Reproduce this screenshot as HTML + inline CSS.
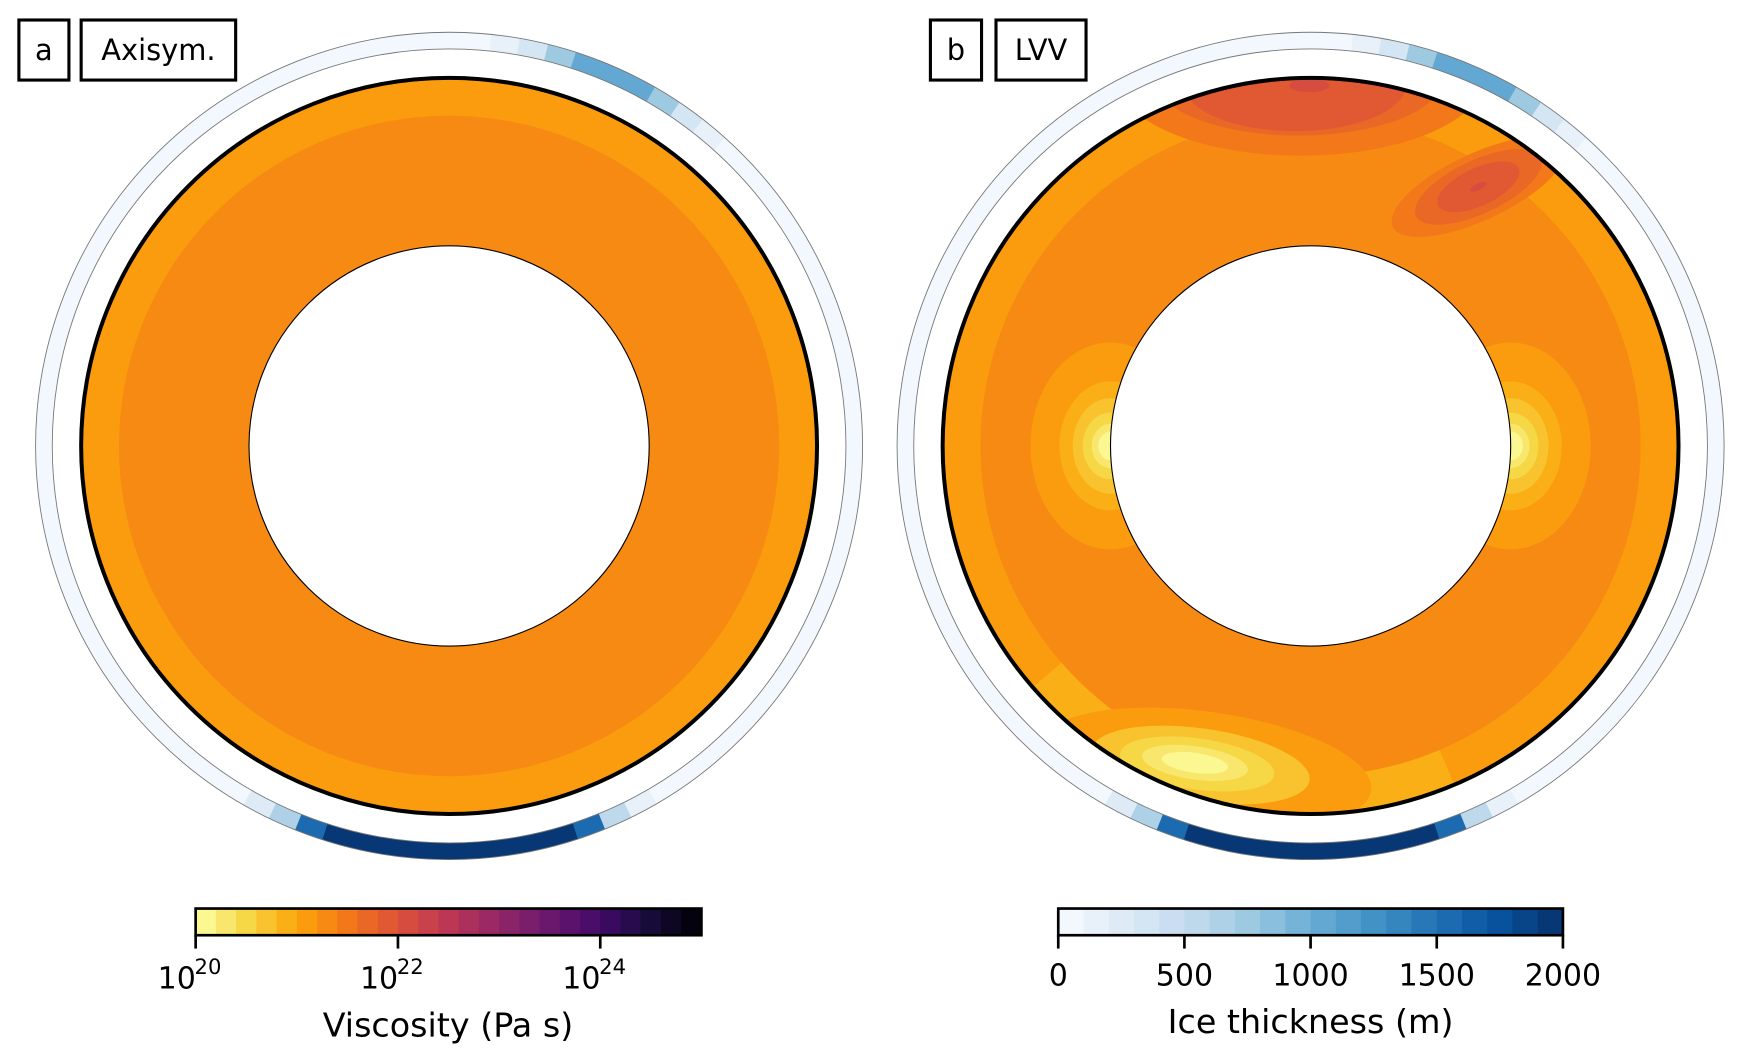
<!DOCTYPE html>
<html><head><meta charset="utf-8"><style>
html,body{margin:0;padding:0;background:#fff;}
svg{display:block;font-family:"DejaVu Sans","Liberation Sans",sans-serif;}
</style></head><body>
<svg id="fig" width="1743" height="1062" viewBox="0 0 1568 955" preserveAspectRatio="none" xmlns="http://www.w3.org/2000/svg">
<defs>
<clipPath id="annA" clip-rule="evenodd"><path clip-rule="evenodd" d="M404,70a331,331 0 1,0 0.01,0ZM404,221a180,180 0 1,0 0.01,0Z"/></clipPath>
<clipPath id="annB" clip-rule="evenodd"><path clip-rule="evenodd" d="M1179,70a331,331 0 1,0 0.01,0ZM1179,221a180,180 0 1,0 0.01,0Z"/></clipPath>
</defs>
<g id="panelA"></g>
<g id="panelB"></g>
<g id="cbars"></g>
<g>
<rect x="17" y="18" width="45" height="54" fill="#fff" stroke="#000" stroke-width="2.8"/>
<text x="39.5" y="54" font-size="26" text-anchor="middle">a</text>
<rect x="73" y="18" width="139" height="54" fill="#fff" stroke="#000" stroke-width="2.8"/>
<text x="142.5" y="54" font-size="26" text-anchor="middle">Axisym.</text>
<rect x="837" y="18" width="46" height="54" fill="#fff" stroke="#000" stroke-width="2.8"/>
<text x="860" y="54" font-size="26" text-anchor="middle">b</text>
<rect x="896" y="18" width="81" height="54" fill="#fff" stroke="#000" stroke-width="2.8"/>
<text x="936.5" y="54" font-size="26" text-anchor="middle">LVV</text>
</g>
</svg>
<script>
// ---- data ----
const viscLevels = 25;            // log10 bins 20..25 step 0.2
const viscMin = 20, viscMax = 25;
const viscTicks = [20, 22, 24];
const iceLevels = 20;             // 0..2000 step 100
const iceMax = 2000;
const iceTicks = [0, 500, 1000, 1500, 2000];
// ice thickness in 4-degree bins (screen angle, 0 = right, clockwise)
const iceThickness = [0,0,0,0,0,0,0,0,0,0,0,0,0,0,50,100,500,1500,2000,2000,2000,2000,2000,2000,2000,2000,2000,1500,600,200,50,0,0,0,0,0,0,0,0,0,0,0,0,0,0,0,0,0,0,0,0,0,0,0,0,0,0,0,0,0,0,0,0,0,0,0,0,0,50,100,300,700,1000,1000,1000,700,300,100,0,0,0,0,0,0,0,0,0,0,0,0];
// axisymmetric viscosity: log10 values for outer / inner shells
const axisymShells = [21.1, 21.3];
// LVV anomalies (log10 viscosity levels, drawn outside-in)
const lvvOuter = 21.1, lvvInner = 21.3;
const topBlobLevels = [21.5, 21.7, 21.9, 22.1];
const nePlumeLevels = [21.5, 21.7, 21.9, 22.1];
const sideBlobLevels = [21.1, 20.9, 20.7, 20.5, 20.3, 20.1];
const swBlobLevels = [21.1, 20.7, 20.5, 20.3, 20.1];
const ringLowLevel = 20.9;

// ---- colormaps ----
const inf = ["#000004","#160b39","#420a68","#6a176e","#932667","#bc3754","#dd513a","#f37819","#fca50a","#f6d746","#fcffa4"];
const blu = ["#f7fbff","#deebf7","#c6dbef","#9ecae1","#6baed6","#4292c6","#2171b5","#08519c","#08306b"];
function hex(c){return [1,3,5].map(i=>parseInt(c.substr(i,2),16));}
function interp(stops,t){t=Math.max(0,Math.min(1,t));const n=stops.length-1;const i=Math.min(n-1,Math.floor(t*n));const f=t*n-i;const a=hex(stops[i]),b=hex(stops[i+1]);return "rgb("+a.map((v,k)=>Math.round(v+(b[k]-v)*f)).join(",")+")";}
function viscColor(v){let k=Math.floor((v-viscMin)/(viscMax-viscMin)*viscLevels+1e-6);k=Math.max(0,Math.min(viscLevels-1,k));return interp(inf,1-(k+0.5)/viscLevels);}
function iceColor(h){let k=Math.floor(h/iceMax*iceLevels);k=Math.max(0,Math.min(iceLevels-1,k));return interp(blu,(k+0.5)/iceLevels);}
const NS="http://www.w3.org/2000/svg";
function mk(tag,attrs,parent){const e=document.createElementNS(NS,tag);for(const k in attrs)e.setAttribute(k,attrs[k]);parent.appendChild(e);return e;}

function drawIceRing(g,cx,cy){
  const r1=357,r2=372,n=iceThickness.length,step=360/n;
  iceThickness.forEach((h,i)=>{
    const a0=(i*step-0.15)*Math.PI/180,a1=((i+1)*step+0.15)*Math.PI/180;
    const p=`M${cx+r2*Math.cos(a0)},${cy+r2*Math.sin(a0)}A${r2},${r2} 0 0,1 ${cx+r2*Math.cos(a1)},${cy+r2*Math.sin(a1)}L${cx+r1*Math.cos(a1)},${cy+r1*Math.sin(a1)}A${r1},${r1} 0 0,0 ${cx+r1*Math.cos(a0)},${cy+r1*Math.sin(a0)}Z`;
    const s=mk("path",{d:p,fill:iceColor(h)},g);
    
    
  });
  mk("circle",{cx,cy,r:r1,fill:"none",stroke:"#777","stroke-width":0.8},g);
  mk("circle",{cx,cy,r:r2,fill:"none",stroke:"#777","stroke-width":0.8},g);
}
function shell(g,cx,cy,outerV,innerV,clip){
  const c=mk("g",{"clip-path":`url(#${clip})`},g);
  mk("circle",{cx,cy,r:331,fill:viscColor(outerV)},c);
  mk("circle",{cx,cy,r:297,fill:viscColor(innerV)},c);
  return c;
}
function finish(g,cx,cy){
  const w=mk("circle",{cx,cy,r:180,fill:"#fff",stroke:"#000","stroke-width":1},g);
  
  
  const o=mk("circle",{cx,cy,r:331,fill:"none",stroke:"#000","stroke-width":3.6},g);
  
  
}
// panel a
const gA=document.getElementById("panelA");
drawIceRing(gA,404,401);
shell(gA,404,401,axisymShells[0],axisymShells[1],"annA");
finish(gA,404,401);
// panel b
const gB=document.getElementById("panelB");
drawIceRing(gB,1179,401);
const cB=shell(gB,1179,401,lvvOuter,lvvInner,"annB");
(function(){const a0=67*Math.PI/180,a1=139*Math.PI/180,r1=297,r2=332,cx=1179,cy=401;
 mk("path",{d:`M${cx+r2*Math.cos(a0)},${cy+r2*Math.sin(a0)}A${r2},${r2} 0 0,1 ${cx+r2*Math.cos(a1)},${cy+r2*Math.sin(a1)}L${cx+r1*Math.cos(a1)},${cy+r1*Math.sin(a1)}A${r1},${r1} 0 0,0 ${cx+r1*Math.cos(a0)},${cy+r1*Math.sin(a0)}Z`,fill:viscColor(ringLowLevel)},cB);})();
const topSizes=[[1170,70,165,70],[1168,70,130,52],[1165,76,100,42],[1178,77,18,6]];
topBlobLevels.forEach((v,i)=>{const e=mk("ellipse",{cx:topSizes[i][0],cy:topSizes[i][1],rx:topSizes[i][2],ry:topSizes[i][3],fill:viscColor(v)},cB);});
const neSizes=[[85,30],[62,24],[40,17],[8,3]];
nePlumeLevels.forEach((v,i)=>{const e=mk("ellipse",{cx:1330,cy:168,rx:neSizes[i][0],ry:neSizes[i][1],fill:viscColor(v),transform:"rotate(-25 1330 168)"},cB);});
const sideSizes=[[72,93],[46,58],[34,43],[25,30],[17,20],[11,13]];
[999,1359].forEach(cx=>sideBlobLevels.forEach((v,i)=>{const e=mk("ellipse",{cx,cy:401,rx:sideSizes[i][0],ry:sideSizes[i][1],fill:viscColor(v)},cB);}));
const swSizes=[[1085,690,150,50],[1080,688,99,33],[1077,687,70,23],[1075,686,48,15],[1075,686,30,9]];
swBlobLevels.forEach((v,i)=>{const s=swSizes[i];const e=mk("ellipse",{cx:s[0],cy:s[1],rx:s[2],ry:s[3],fill:viscColor(v),transform:`rotate(8 ${s[0]} ${s[1]})`},cB);});
finish(gB,1179,401);

// colorbars
const gC=document.getElementById("cbars");
function cbar(x0,x1,n,colorFn,name){
  const w=(x1-x0)/n;
  for(let k=0;k<n;k++){const r=mk("rect",{x:x0+k*w,y:817,width:w+0.6,height:24,fill:colorFn(k)},gC);
    
    }
  mk("rect",{x:x0,y:817,width:x1-x0,height:24,fill:"none",stroke:"#000","stroke-width":2.4},gC);
}
cbar(176,631,viscLevels,k=>interp(inf,1-(k+0.5)/viscLevels),"viscosity-colorbar");
cbar(952,1406,iceLevels,k=>interp(blu,(k+0.5)/iceLevels),"ice-colorbar");
viscTicks.forEach(t=>{const x=176+(t-viscMin)/(viscMax-viscMin)*455;
  mk("line",{x1:x,x2:x,y1:841,y2:853,stroke:"#000","stroke-width":2.4},gC);
  const tx=mk("text",{x:x-17,y:889,"font-size":27,"text-anchor":"middle"},gC);
  
  
  tx.textContent="10";
  const sp=mk("text",{x:x-1,y:876,"font-size":19},gC);
  sp.textContent=String(t);});
iceTicks.forEach(t=>{const x=952+t/iceMax*454;
  mk("line",{x1:x,x2:x,y1:841,y2:853,stroke:"#000","stroke-width":2.4},gC);
  const tx=mk("text",{x,y:886,"font-size":27,"text-anchor":"middle"},gC);
  
  
  tx.textContent=String(t);});
const t1=mk("text",{x:403,y:932,"font-size":30,"text-anchor":"middle"},gC);


t1.textContent="Viscosity (Pa s)";
const t2=mk("text",{x:1179,y:929,"font-size":30,"text-anchor":"middle"},gC);


t2.textContent="Ice thickness (m)";
</script>
</body></html>
